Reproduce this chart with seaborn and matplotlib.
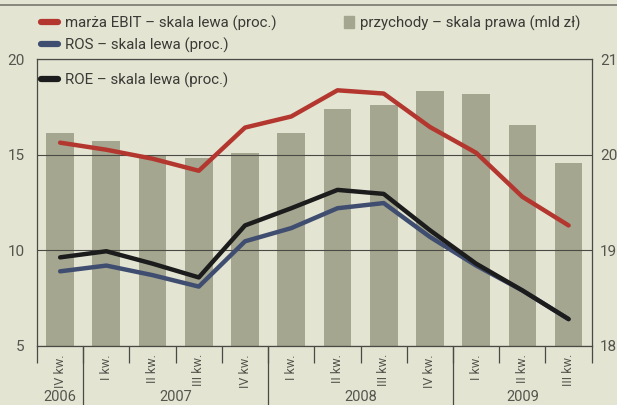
import numpy as np
import pandas as pd
import matplotlib
matplotlib.use("Agg")
import matplotlib.pyplot as plt
from matplotlib.lines import Line2D
from matplotlib.patches import Patch
import seaborn as sns

# quarters IV 2006 - III 2009
quarters = ["IV kw.", "I kw.", "II kw.", "III kw.", "IV kw.", "I kw.",
            "II kw.", "III kw.", "IV kw.", "I kw.", "II kw.", "III kw."]
years = ["2006", "2007", "2008", "2009"]
quarters_per_year = [1, 4, 4, 3]

revenue = [20.23, 20.14, 20.00, 19.97, 20.02, 20.23, 20.48, 20.52, 20.67, 20.63, 20.31, 19.91]
ebit_margin = [15.63, 15.26, 14.79, 14.16, 16.42, 17.00, 18.37, 18.20, 16.45, 15.10, 12.80, 11.30]
ros = [8.90, 9.20, 8.70, 8.10, 10.47, 11.16, 12.20, 12.47, 10.70, 9.20, 7.90, 6.40]
roe = [9.63, 9.95, 9.30, 8.58, 11.30, 12.20, 13.16, 12.95, 11.05, 9.30, 7.90, 6.40]

PAPER = "#e4e4d3"
BAR = "#a5a690"
RED = "#b3372f"
BLUE = "#3f4e70"
BLACK = "#1c1c1c"
INK = "#55554e"

sns.set_theme(style="white")
plt.rcParams["font.family"] = ["Roboto", "DejaVu Sans"]

df = pd.DataFrame({
    "pos": np.arange(len(quarters)),
    "revenue": revenue,
    "ebit": ebit_margin,
    "ros": ros,
    "roe": roe,
})

fig = plt.figure(figsize=(6.17, 4.05), dpi=100, facecolor=PAPER)
ax_bar = fig.add_axes([0.060, 0.146, 0.899, 0.708])
ax_bar.set_facecolor(PAPER)

# revenue bars on the right scale
sns.barplot(data=df, x="pos", y="revenue", color=BAR, width=0.6,
            saturation=1, linewidth=0, edgecolor="none", ax=ax_bar)
ax_bar.set_ylim(18, 21)
ax_bar.set_xlim(-0.5, len(quarters) - 0.5)

# ratios on the left scale
ax_line = ax_bar.twinx()
for col, colour in [("ebit", RED), ("ros", BLUE), ("roe", BLACK)]:
    sns.lineplot(data=df, x="pos", y=col, color=colour, lw=3.2,
                 solid_capstyle="round", ax=ax_line)
ax_line.set_ylim(5, 20)
ax_line.set_xlim(-0.5, len(quarters) - 0.5)

ax_line.yaxis.tick_left()
ax_bar.yaxis.tick_right()
ax_line.set_yticks([5, 10, 15, 20])
ax_bar.set_yticks([18, 19, 20, 21])
ax_line.tick_params(axis="y", length=0, pad=9, labelsize=11, labelcolor=INK)
ax_bar.tick_params(axis="y", length=0, pad=6, labelsize=11, labelcolor=INK)
ax_line.set_ylabel("")
ax_bar.set_ylabel("")
ax_bar.set_xlabel("")

ax_line.grid(axis="y", color="#4a4a44", lw=0.8)
ax_line.grid(axis="x", visible=False)
ax_bar.grid(False)
for s in ax_bar.spines.values():
    s.set_visible(False)
for s in ax_line.spines.values():
    s.set_visible(True)
    s.set_color("#4a4a44")
    s.set_linewidth(0.9)

# x axis: quarter labels + separators
ax_bar.set_xticks(range(len(quarters)), quarters, rotation=90)
ax_bar.set_xticks(np.arange(-0.5, len(quarters), 1), minor=True)
ax_bar.tick_params(axis="x", which="major", length=0, pad=6, labelsize=9,
                   labelcolor=INK, bottom=True)
ax_bar.tick_params(axis="x", which="minor", length=12, width=0.9,
                   color="#4a4a44", direction="out", bottom=True)

bounds = np.cumsum(quarters_per_year) - 0.5
trans = ax_bar.get_xaxis_transform()
for b in bounds[:-1]:
    ax_bar.plot([b, b], [0, -0.21], transform=trans, color="#4a4a44", lw=0.9,
                clip_on=False)
start = -0.5
for year, n in zip(years, quarters_per_year):
    ax_bar.text(start + n / 2, -0.178, year, transform=trans, ha="center",
                va="center", fontsize=10.5, color=INK)
    start += n

# legends
lw_handle = dict(lw=4.5, solid_capstyle="round")
leg1 = fig.legend(handles=[Line2D([], [], color=RED, **lw_handle),
                           Line2D([], [], color=BLUE, **lw_handle)],
                  labels=["marża EBIT – skala lewa (proc.)",
                          "ROS – skala lewa (proc.)"],
                  loc="upper left", bbox_to_anchor=(0.045, 0.995),
                  frameon=False, handlelength=1.1, handletextpad=0.5,
                  labelspacing=0.45, fontsize=10.8, labelcolor="#3a3a36")
leg2 = fig.legend(handles=[Line2D([], [], color=BLACK, **lw_handle)],
                  labels=["ROE – skala lewa (proc.)"],
                  loc="upper left", bbox_to_anchor=(0.045, 0.855),
                  frameon=False, handlelength=1.1, handletextpad=0.5,
                  fontsize=10.8, labelcolor="#3a3a36")
leg3 = fig.legend(handles=[Patch(color=BAR)],
                  labels=["przychody – skala prawa (mld zł)"],
                  loc="upper left", bbox_to_anchor=(0.535, 0.995),
                  frameon=False, handlelength=0.7, handleheight=0.8,
                  handletextpad=0.4, fontsize=10.8, labelcolor="#3a3a36")

fig.add_artist(Line2D([0, 1], [0.988, 0.988], transform=fig.transFigure,
                      color="#777770", lw=1.2))

fig.savefig("out.png", dpi=100, facecolor=PAPER)
